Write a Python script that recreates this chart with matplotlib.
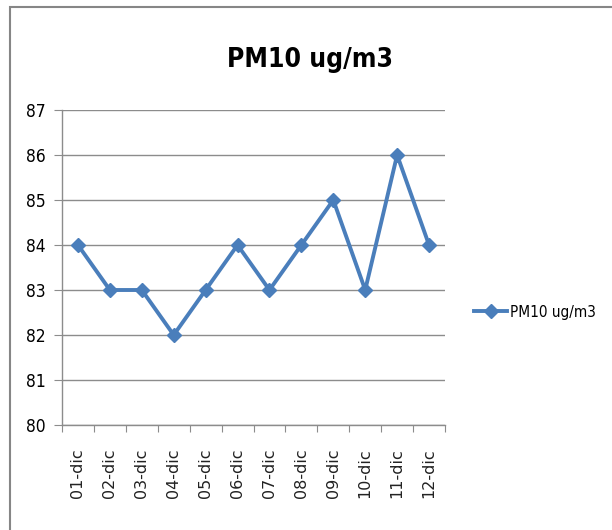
import matplotlib
matplotlib.use("Agg")
import matplotlib.pyplot as plt
from matplotlib.patches import Rectangle
from matplotlib.lines import Line2D

# data
days = ["01-dic", "02-dic", "03-dic", "04-dic", "05-dic", "06-dic",
        "07-dic", "08-dic", "09-dic", "10-dic", "11-dic", "12-dic"]
pm10 = [84, 83, 83, 82, 83, 84, 83, 84, 85, 83, 86, 84]
y_ticks = [80, 81, 82, 83, 84, 85, 86, 87]
series_name = "PM10 ug/m3"

narrow = {"family": "DejaVu Sans", "stretch": "condensed"}
line_color = "#4A7EBB"
grid_color = "#8C8C8C"

fig = plt.figure(figsize=(6.12, 5.30), dpi=100)

# chart frame (Excel style border), only top and left edges show
fig.patches.append(Rectangle((10 / 612, -0.05), 1.2, 1 - 7 / 530 + 0.05,
                             transform=fig.transFigure, fill=False,
                             edgecolor="#868686", linewidth=1.5))

ax = fig.add_axes([62 / 612, 105 / 530, 383 / 612, 315 / 530])

x = [i + 0.5 for i in range(len(days))]
ax.plot(x, pm10, color=line_color, linewidth=2.8, marker="D",
        markersize=7.5, markerfacecolor=line_color, markeredgecolor=line_color)

ax.set_xlim(0, len(days))
ax.set_ylim(y_ticks[0], y_ticks[-1])
ax.set_yticks(y_ticks)
ax.set_yticklabels([str(v) for v in y_ticks], fontsize=12.5, **narrow)

ax.set_xticks(range(len(days) + 1))
ax.set_xticklabels([])
ax.set_xticks(x, minor=True)
ax.set_xticklabels(days, minor=True, rotation=90, family="DejaVu Sans",
                   fontsize=11.5, color="#222222")
ax.tick_params(axis="x", which="minor", length=0, pad=17)
ax.tick_params(axis="x", which="major", length=5, color=grid_color, direction="out")
ax.tick_params(axis="y", length=6, color=grid_color, direction="out", pad=6)

ax.grid(axis="y", color=grid_color, linewidth=1)
ax.set_axisbelow(True)
for side in ["top", "right"]:
    ax.spines[side].set_visible(False)
for side in ["left", "bottom"]:
    ax.spines[side].set_color(grid_color)
    ax.spines[side].set_linewidth(1)

fig.text(310 / 612, 1 - 60 / 530, series_name, ha="center", va="center",
         fontsize=19, fontweight="bold", **narrow)

handle = Line2D([], [], color=line_color, linewidth=2.8, marker="D",
                markersize=7.5)
fig.legend([handle], [series_name], loc="center left",
           bbox_to_anchor=(460 / 612, 1 - 312 / 530), frameon=False,
           handlelength=2.2, handletextpad=0.2,
           prop={"family": "DejaVu Sans", "stretch": "condensed", "size": 11})

fig.savefig("out.png", dpi=100)
